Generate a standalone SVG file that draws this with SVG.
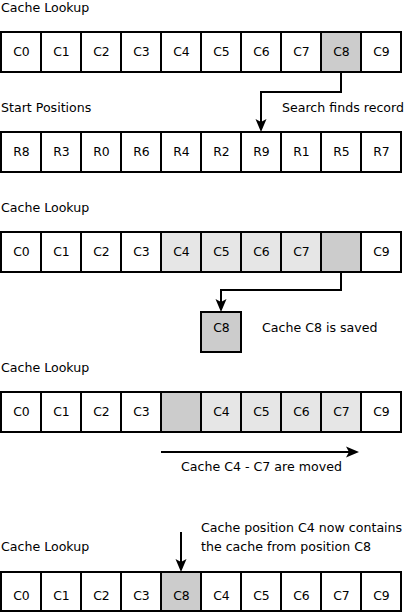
<svg xmlns="http://www.w3.org/2000/svg" width="405" height="612" viewBox="0 0 405 612">
<style>
text{font-family:"DejaVu Sans","Liberation Sans",sans-serif;font-size:12.6px;fill:#000}
.c{text-anchor:middle;font-size:12.4px}
rect{stroke:#000;stroke-width:2;fill:#fff}
.d{fill:#cccccc}
.l{fill:#e6e6e6}
.w{stroke:#000;stroke-width:2;fill:none}
</style>
<defs>
<marker id="ah" markerUnits="userSpaceOnUse" markerWidth="20" markerHeight="20" refX="0" refY="0" orient="auto" overflow="visible">
<path d="M7,0 L-6,-5.5 L-3,0 L-6,5.5 Z" fill="#000"/>
</marker>
</defs>
<rect x="0" y="0" width="405" height="612" style="fill:#fff;stroke:none"/>
<text x="1" y="12">Cache Lookup</text>
<text x="1" y="112">Start Positions</text>
<text x="282" y="112">Search finds record</text>
<text x="1" y="212">Cache Lookup</text>
<text x="262" y="332">Cache C8 is saved</text>
<text x="1" y="372">Cache Lookup</text>
<text x="181" y="471">Cache C4 - C7 are moved</text>
<text x="201" y="532">Cache position C4 now contains</text>
<text x="201" y="551">the cache from position C8</text>
<text x="1" y="551">Cache Lookup</text>

<g id="row1">
<g id="r1c0"><rect x="1" y="32" width="40" height="40"/><text class="c" x="21.5" y="56">C0</text></g>
<g id="r1c1"><rect x="41" y="32" width="40" height="40"/><text class="c" x="61.5" y="56">C1</text></g>
<g id="r1c2"><rect x="81" y="32" width="40" height="40"/><text class="c" x="101.5" y="56">C2</text></g>
<g id="r1c3"><rect x="121" y="32" width="40" height="40"/><text class="c" x="141.5" y="56">C3</text></g>
<g id="r1c4"><rect x="161" y="32" width="40" height="40"/><text class="c" x="181.5" y="56">C4</text></g>
<g id="r1c5"><rect x="201" y="32" width="40" height="40"/><text class="c" x="221.5" y="56">C5</text></g>
<g id="r1c6"><rect x="241" y="32" width="40" height="40"/><text class="c" x="261.5" y="56">C6</text></g>
<g id="r1c7"><rect x="281" y="32" width="40" height="40"/><text class="c" x="301.5" y="56">C7</text></g>
<g id="r1c8"><rect class="d" x="321" y="32" width="40" height="40"/><text class="c" x="341.5" y="56">C8</text></g>
<g id="r1c9"><rect x="361" y="32" width="40" height="40"/><text class="c" x="381.5" y="56">C9</text></g>
</g>

<g id="row2">
<g id="r2c0"><rect x="1" y="132" width="40" height="40"/><text class="c" x="21.5" y="156">R8</text></g>
<g id="r2c1"><rect x="41" y="132" width="40" height="40"/><text class="c" x="61.5" y="156">R3</text></g>
<g id="r2c2"><rect x="81" y="132" width="40" height="40"/><text class="c" x="101.5" y="156">R0</text></g>
<g id="r2c3"><rect x="121" y="132" width="40" height="40"/><text class="c" x="141.5" y="156">R6</text></g>
<g id="r2c4"><rect x="161" y="132" width="40" height="40"/><text class="c" x="181.5" y="156">R4</text></g>
<g id="r2c5"><rect x="201" y="132" width="40" height="40"/><text class="c" x="221.5" y="156">R2</text></g>
<g id="r2c6"><rect x="241" y="132" width="40" height="40"/><text class="c" x="261.5" y="156">R9</text></g>
<g id="r2c7"><rect x="281" y="132" width="40" height="40"/><text class="c" x="301.5" y="156">R1</text></g>
<g id="r2c8"><rect x="321" y="132" width="40" height="40"/><text class="c" x="341.5" y="156">R5</text></g>
<g id="r2c9"><rect x="361" y="132" width="40" height="40"/><text class="c" x="381.5" y="156">R7</text></g>
</g>

<g id="row3">
<g id="r3c0"><rect x="1" y="232" width="40" height="40"/><text class="c" x="21.5" y="256">C0</text></g>
<g id="r3c1"><rect x="41" y="232" width="40" height="40"/><text class="c" x="61.5" y="256">C1</text></g>
<g id="r3c2"><rect x="81" y="232" width="40" height="40"/><text class="c" x="101.5" y="256">C2</text></g>
<g id="r3c3"><rect x="121" y="232" width="40" height="40"/><text class="c" x="141.5" y="256">C3</text></g>
<g id="r3c4"><rect class="l" x="161" y="232" width="40" height="40"/><text class="c" x="181.5" y="256">C4</text></g>
<g id="r3c5"><rect class="l" x="201" y="232" width="40" height="40"/><text class="c" x="221.5" y="256">C5</text></g>
<g id="r3c6"><rect class="l" x="241" y="232" width="40" height="40"/><text class="c" x="261.5" y="256">C6</text></g>
<g id="r3c7"><rect class="l" x="281" y="232" width="40" height="40"/><text class="c" x="301.5" y="256">C7</text></g>
<g id="r3c8"><rect class="d" x="321" y="232" width="40" height="40"/></g>
<g id="r3c9"><rect x="361" y="232" width="40" height="40"/><text class="c" x="381.5" y="256">C9</text></g>
</g>

<g id="saved"><rect class="d" x="201" y="312" width="40" height="40"/><text class="c" x="221.5" y="332">C8</text></g>

<g id="row4">
<g id="r4c0"><rect x="1" y="392" width="40" height="40"/><text class="c" x="21.5" y="416">C0</text></g>
<g id="r4c1"><rect x="41" y="392" width="40" height="40"/><text class="c" x="61.5" y="416">C1</text></g>
<g id="r4c2"><rect x="81" y="392" width="40" height="40"/><text class="c" x="101.5" y="416">C2</text></g>
<g id="r4c3"><rect x="121" y="392" width="40" height="40"/><text class="c" x="141.5" y="416">C3</text></g>
<g id="r4c4"><rect class="d" x="161" y="392" width="40" height="40"/></g>
<g id="r4c5"><rect class="l" x="201" y="392" width="40" height="40"/><text class="c" x="221.5" y="416">C4</text></g>
<g id="r4c6"><rect class="l" x="241" y="392" width="40" height="40"/><text class="c" x="261.5" y="416">C5</text></g>
<g id="r4c7"><rect class="l" x="281" y="392" width="40" height="40"/><text class="c" x="301.5" y="416">C6</text></g>
<g id="r4c8"><rect class="l" x="321" y="392" width="40" height="40"/><text class="c" x="341.5" y="416">C7</text></g>
<g id="r4c9"><rect x="361" y="392" width="40" height="40"/><text class="c" x="381.5" y="416">C9</text></g>
</g>

<g id="row5">
<g id="r5c0"><rect x="1" y="572" width="40" height="39"/><text class="c" x="21.5" y="600">C0</text></g>
<g id="r5c1"><rect x="41" y="572" width="40" height="39"/><text class="c" x="61.5" y="600">C1</text></g>
<g id="r5c2"><rect x="81" y="572" width="40" height="39"/><text class="c" x="101.5" y="600">C2</text></g>
<g id="r5c3"><rect x="121" y="572" width="40" height="39"/><text class="c" x="141.5" y="600">C3</text></g>
<g id="r5c4"><rect class="d" x="161" y="572" width="40" height="39"/><text class="c" x="181.5" y="600">C8</text></g>
<g id="r5c5"><rect x="201" y="572" width="40" height="39"/><text class="c" x="221.5" y="600">C4</text></g>
<g id="r5c6"><rect x="241" y="572" width="40" height="39"/><text class="c" x="261.5" y="600">C5</text></g>
<g id="r5c7"><rect x="281" y="572" width="40" height="39"/><text class="c" x="301.5" y="600">C6</text></g>
<g id="r5c8"><rect x="321" y="572" width="40" height="39"/><text class="c" x="341.5" y="600">C7</text></g>
<g id="r5c9"><rect x="361" y="572" width="40" height="39"/><text class="c" x="381.5" y="600">C9</text></g>
</g>

<g id="connectors">
<path class="w" d="M341,73 V92 H261 V125" marker-end="url(#ah)"/>
<path class="w" d="M341,273 V290 H221 V305" marker-end="url(#ah)"/>
<path class="w" d="M161,452 H352" marker-end="url(#ah)"/>
<path class="w" d="M181,532 V565" marker-end="url(#ah)"/>
</g>
</svg>
